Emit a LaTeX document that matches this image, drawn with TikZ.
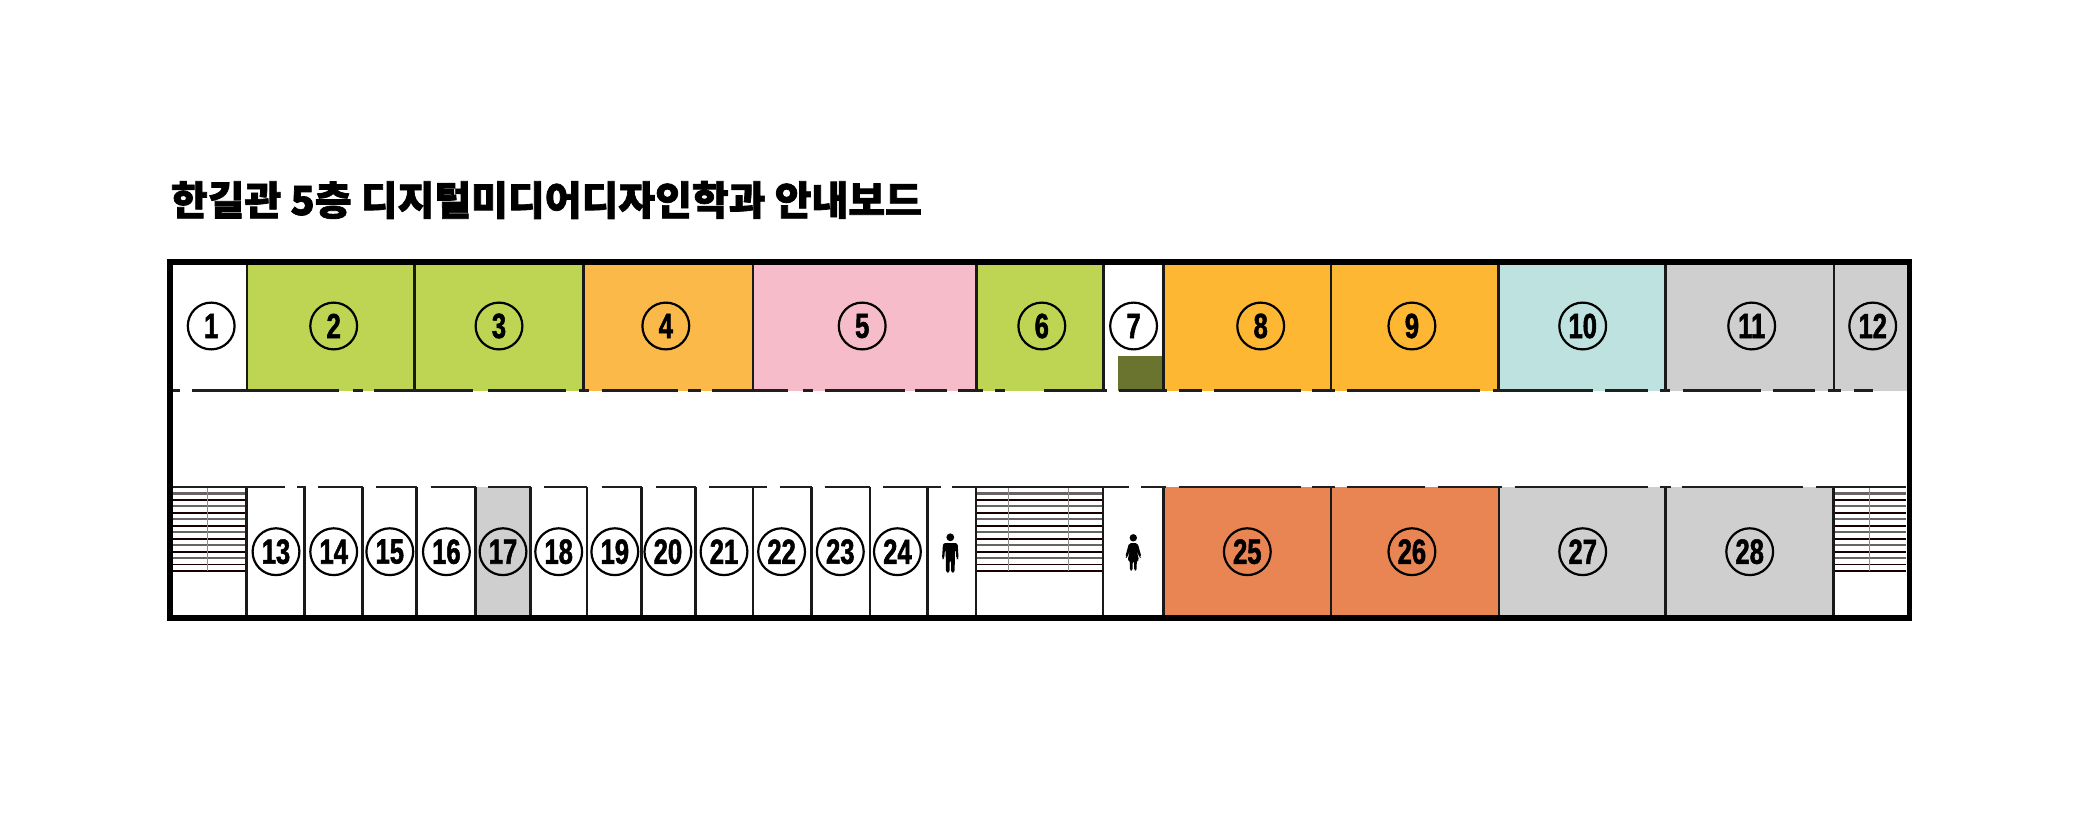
\documentclass[tikz,border=0pt]{standalone}
\usepackage{fontspec}
\newfontfamily\titlefont[FakeBold=1.8]{Noto Sans CJK KR Black}
\newfontfamily\numfont[FakeStretch=0.73,FakeBold=1.5]{Liberation Sans Bold}
\definecolor{cgreen}{HTML}{BDD553}
\definecolor{corangeA}{HTML}{FBB949}
\definecolor{cpink}{HTML}{F6BCCA}
\definecolor{corangeB}{HTML}{FDB733}
\definecolor{cteal}{HTML}{BDE2DF}
\definecolor{cgrey}{HTML}{CFCFCF}
\definecolor{corangeC}{HTML}{E98553}
\definecolor{cmoss}{HTML}{6A742E}
\tikzset{
  x=0.5pt,y=-0.5pt,
  num/.style={circle,draw=black,line width=1.1pt,minimum size=23.4pt,inner sep=0pt,font=\numfont\fontsize{17.5}{17.5}\selectfont},
  wallouter/.style={draw=black,line width=2.8pt,line join=miter},
  partition/.style={draw=black!90,line width=1.4pt},
  doorline/.style={draw=black!88,line width=1.15pt},
  stairdark/.style={draw=black!90!red,line width=.8pt},
  stairgrey/.style={draw=black!55!red!15!white!45!black,line width=1.05pt},
  stairaxis/.style={draw=black!45,line width=.4pt},
}
\begin{document}
\begin{tikzpicture}
\useasboundingbox (0,0) rectangle (2076,834);
% room fills
\foreach \a/\b/\c in {247/414.3/cgreen,414.3/583.7/cgreen,583.7/753/corangeA,753/976.7/cpink,976.7/1103.4/cgreen,1163.5/1331/corangeB,1331/1498.3/corangeB,1498.3/1665.7/cteal,1665.7/1834/cgrey,1834/1909/cgrey}
  \fill[\c] (\a,262) rectangle (\b,391);
\foreach \a/\b/\c in {475.5/530.6/cgrey,1163.5/1331/corangeC,1331/1499/corangeC,1499/1665.7/cgrey,1665.7/1833.3/cgrey}
  \fill[\c] (\a,487) rectangle (\b,618);
\fill[cmoss] (1118,356) rectangle (1163.5,391);
% stairs
\foreach \xa/\xb in {172/246.4,976/1103,1834/1906}{
  \foreach \i in {1,3,...,13}
    \draw[stairgrey] (\xa,487+6.47*\i) -- (\xb,487+6.47*\i);
  \foreach \i in {0,2,...,12}
    \draw[stairdark] (\xa,487+6.47*\i) -- (\xb,487+6.47*\i);
  \draw[stairdark] (\xa,571.2) -- (\xb,571.2);
}
\foreach \xs in {207.7,1008.5,1068.6,1869}
  \draw[stairaxis] (\xs,487) -- (\xs,571.2);
% partitions
\foreach \xs in {247,414.3,583.7,753,976.7,1103.4,1163.5,1331,1498.3,1665.7,1834}
  \draw[partition] (\xs,262) -- (\xs,391);
\foreach \xs in {246.4,304.6,362.8,416.8,475.5,530.6,587,641.8,695.4,753,811.7,869.9,927.5,976,1103,1163.5,1331,1499,1665.7,1833.3}
  \draw[partition] (\xs,487) -- (\xs,618);
% corridor lines with door gaps
\foreach \a/\b in {173/180,191.7/339.3,352.7/362.7,374/473,487.8/565.8,578.6/588.8,601.5/678,688/701,712/787.8,803/813,824.5/905,915/946.7,958.3/983,995/1005,1044/1107,1119/1166.6,1179/1202,1213.6/1300.5,1312/1335,1347/1480,1493/1593,1605/1648,1660/1670,1682.7/1760.7,1773/1815,1828/1840.7,1854/1873}
  \draw[doorline] (\a,390.5) -- (\b,390.5);
\foreach \a/\b in {173/285,297/305.6,318.4/362.8,375.5/416.8,430.6/475.5,487.8/530.6,543.9/587,601.5/641.8,656/696,709/767.3,780/811.7,824.5/870.4,883/940.8,951.5/1129.4,1141/1166,1179/1300.5,1312/1335,1347/1425,1437.5/1501.8,1515/1648,1660/1670.7,1682/1803,1816/1906}
  \draw[doorline] (\a,487) -- (\b,487);
% outer wall
\draw[wallouter] (170,262) rectangle (1909.5,618);
% numbers
\foreach \n/\xs in {1/211.2,2/333.7,3/499,4/665.8,5/862.2,6/1041.8,7/1133.6,8/1260.7,9/1411.9,10/1582.7,11/1751.7,12/1872.7}
  \node[num] (n\n) at (\xs,326) {\n};
\foreach \n/\xs in {13/276,14/333.7,15/389.8,16/446.4,17/503,18/558.7,19/614.8,20/667.9,21/724,22/781.6,23/840.3,24/897.4,25/1247.3,26/1411.9,27/1582.7,28/1749.7}
  \node[num] (n\n) at (\xs,551.7) {\n};
% pictograms
\fill[black] (950.3,537.3) circle[radius=3.9];
\fill[black,rounded corners=1.2] (943,543) -- (957.6,543) -- (958.6,559) -- (956.4,559) -- (955.6,549) -- (955,549) -- (954.6,572.7) -- (951,572.7) -- (951,560) -- (949.6,560) -- (949.6,572.7) -- (946,572.7) -- (945.6,549) -- (945,549) -- (944.2,559) -- (942,559) -- cycle;
\fill[black] (1133.3,537.8) circle[radius=3.7];
\fill[black,rounded corners=1] (1129,543) -- (1137.6,543) -- (1141.5,557) -- (1139.6,558) -- (1136.6,550) -- (1139,560.5) -- (1136.8,560.5) -- (1136.6,570.7) -- (1134.2,570.7) -- (1134,561) -- (1132.8,561) -- (1132.5,570.7) -- (1130,570.7) -- (1129.8,560.5) -- (1127.6,560.5) -- (1130,550) -- (1127,558) -- (1125.2,557) -- cycle;
% title
\node[anchor=west,inner sep=0pt,font=\titlefont\fontsize{20}{20}\selectfont] (title) at (170.5,200) {한길관 5층 디지털미디어디자인학과 안내보드};
\end{tikzpicture}
\end{document}
